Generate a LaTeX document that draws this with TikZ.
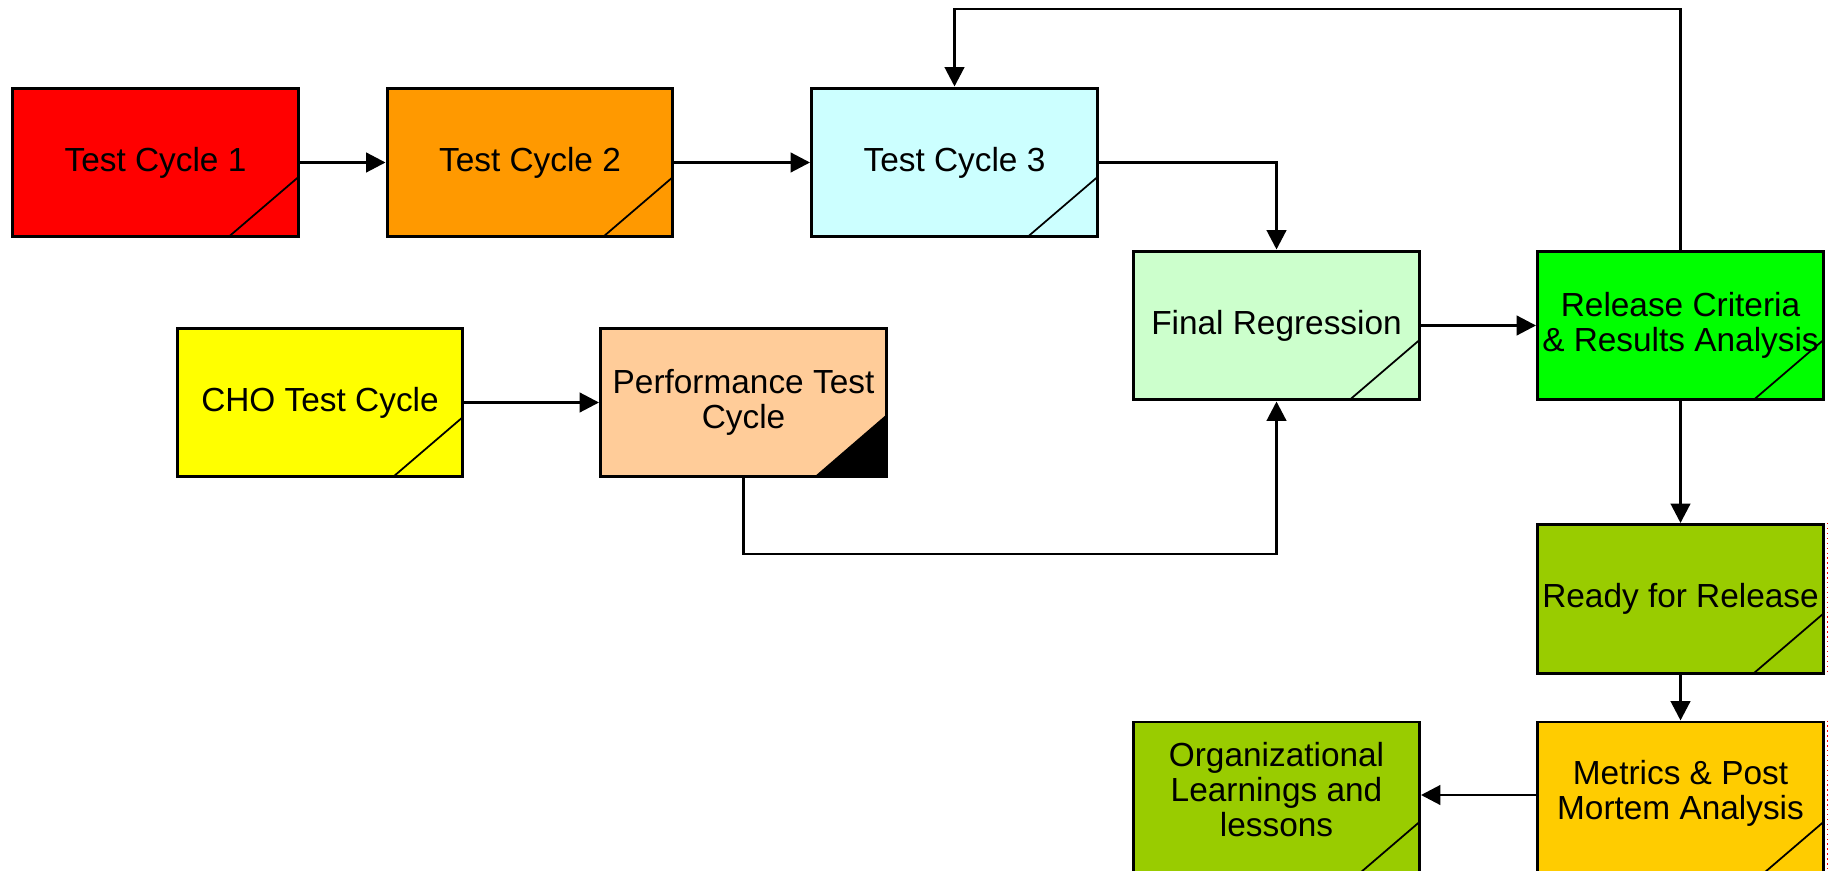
\documentclass[tikz,border=0pt]{standalone}
\usepackage{fontspec}
\setmainfont{Liberation Sans}
\usetikzlibrary{arrows.meta}
\definecolor{tcred}{HTML}{FF0000}
\definecolor{tcorange}{HTML}{FF9900}
\definecolor{tccyan}{HTML}{CCFFFF}
\definecolor{frgreen}{HTML}{CCFFCC}
\definecolor{rcgreen}{HTML}{00FF00}
\definecolor{choyellow}{HTML}{FFFF00}
\definecolor{perfpeach}{HTML}{FFCC99}
\definecolor{olive}{HTML}{99CC00}
\definecolor{gold}{HTML}{FFCC00}
\tikzset{
	box/.style={draw=black, line width=1.7pt, fill=#1, minimum width=5.72cm, minimum height=2.98cm,
		inner sep=1pt, align=center, font=\fontsize{19}{20}\selectfont,
		path picture={\draw[line width=1pt] ([xshift=-1.4cm]path picture bounding box.south east) -- ([yshift=1.2cm]path picture bounding box.south east);}},
	darkbox/.style={box=#1,
		path picture={\fill[black] ([xshift=-1.45cm]path picture bounding box.south east) -- ([yshift=1.25cm]path picture bounding box.south east) -- (path picture bounding box.south east) -- cycle;}},
	tallbox/.style={box=#1, minimum height=3.2cm, anchor=north, text depth=14pt},
	conn/.style={line width=1.7pt, -{Triangle[length=11pt, width=11pt]}}
}

\begin{document}
\begin{tikzpicture}[x=0.02cm, y=-0.02cm]
			%%%%% START %%%%%
			\useasboundingbox (0, 0) rectangle (1832, 871);
			
			\node[box=tcred] (tc1) at (155.5, 162.5) {Test Cycle 1};
			\node[box=tcorange] (tc2) at (530, 162.5) {Test Cycle 2};
			\node[box=tccyan] (tc3) at (954.5, 162.5) {Test Cycle 3};
			\node[box=frgreen] (fr) at (1276.5, 325.5) {Final Regression};
			\node[box=rcgreen] (rc) at (1680.5, 325.5) {Release Criteria\\\& Results Analysis};
			
			\node[box=choyellow] (cho) at (320, 402.5) {CHO Test Cycle};
			\node[darkbox=perfpeach] (perf) at (743.5, 402.5) {Performance Test\\Cycle};
			
			\node[box=olive] (ready) at (1680.5, 599) {Ready for Release};
			\node[tallbox=gold] (met) at (1680.5, 720.5) {Metrics \& Post\\Mortem Analysis};
			\node[tallbox=olive] (org) at (1276.5, 720.5) {Organizational\\Learnings and\\lessons};
			
			\coordinate (loop) at (tc3.north |- 0, 9);
			\coordinate (dip) at (perf.south |- 0, 554);
			
			\draw[conn] (tc1) -- (tc2);
			\draw[conn] (tc2) -- (tc3);
			\draw[conn] (tc3.east) -| (fr.north);
			\draw[conn] (fr) -- (rc);
			\draw[conn] (rc.north) |- (loop) -- (tc3.north);
			\draw[conn] (cho) -- (perf);
			\draw[conn] (perf.south) -- (dip) -| (fr.south);
			\draw[conn] (rc) -- (ready);
			\draw[conn] (ready) -- (met);
			\draw[conn] (met.west |- 0, 795) -- (org.east |- 0, 795);
			
			\draw[red, dotted, line width=0.8pt] ([xshift=1.4pt]ready.north east) -- ([xshift=1.4pt]ready.south east);
			\draw[red, dotted, line width=0.8pt] ([xshift=1.4pt]met.north east) -- ([xshift=1.4pt]met.south east);
			%%%%% END %%%%%
\end{tikzpicture}
\end{document}
